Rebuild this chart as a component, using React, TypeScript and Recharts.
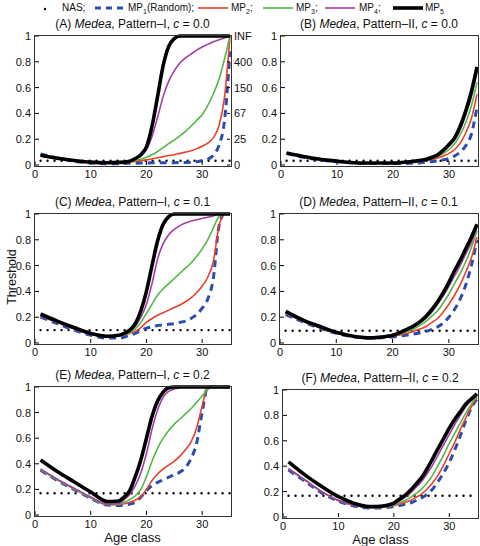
import React from 'react';
import { LineChart, Line, XAxis, YAxis, ReferenceLine } from 'recharts';

const ages = [1, 4, 7, 10, 13, 15, 16, 17, 18, 19, 20, 21, 22, 23, 24, 25, 26, 27, 28, 29, 30, 31, 32, 33, 34, 35];

// (A) Pattern-I, c = 0.0
const aMP1 = [0.085, 0.055, 0.03, 0.015, 0.01, 0.01, 0.012, 0.013, 0.014, 0.015, 0.016, 0.017, 0.017, 0.017, 0.018, 0.018, 0.019, 0.02, 0.022, 0.026, 0.033, 0.045, 0.075, 0.15, 0.34, 0.88];
const aMP2 = [0.072, 0.05, 0.033, 0.021, 0.018, 0.02, 0.022, 0.024, 0.028, 0.034, 0.04, 0.048, 0.056, 0.065, 0.073, 0.08, 0.09, 0.1, 0.11, 0.125, 0.145, 0.17, 0.21, 0.3, 0.52, 1];
const aMP3 = [0.072, 0.05, 0.033, 0.021, 0.018, 0.02, 0.022, 0.025, 0.035, 0.045, 0.06, 0.08, 0.105, 0.135, 0.165, 0.195, 0.225, 0.26, 0.3, 0.345, 0.39, 0.46, 0.55, 0.66, 0.82, 1];
const aMP4 = [0.072, 0.05, 0.033, 0.021, 0.018, 0.02, 0.022, 0.03, 0.045, 0.07, 0.12, 0.22, 0.37, 0.53, 0.65, 0.73, 0.79, 0.83, 0.86, 0.89, 0.915, 0.935, 0.955, 0.97, 0.985, 1];
const aMP5 = [0.075, 0.052, 0.035, 0.022, 0.018, 0.02, 0.022, 0.03, 0.05, 0.08, 0.14, 0.3, 0.53, 0.77, 0.92, 0.98, 1, 1, 1, 1, 1, 1, 1, 1, 1, 1];

// (B) Pattern-II, c = 0.0
const bMP1 = [0.09, 0.06, 0.04, 0.025, 0.015, 0.012, 0.012, 0.012, 0.012, 0.012, 0.012, 0.012, 0.012, 0.013, 0.015, 0.018, 0.022, 0.027, 0.033, 0.04, 0.05, 0.07, 0.1, 0.15, 0.24, 0.45];
const bMP2 = [0.093, 0.066, 0.045, 0.03, 0.018, 0.015, 0.015, 0.015, 0.015, 0.015, 0.016, 0.018, 0.02, 0.023, 0.026, 0.03, 0.036, 0.044, 0.055, 0.07, 0.09, 0.12, 0.17, 0.25, 0.36, 0.55];
const bMP3 = [0.093, 0.066, 0.045, 0.03, 0.018, 0.015, 0.015, 0.015, 0.015, 0.015, 0.016, 0.018, 0.021, 0.024, 0.028, 0.033, 0.04, 0.05, 0.065, 0.088, 0.12, 0.165, 0.235, 0.33, 0.46, 0.64];
const bMP4 = [0.093, 0.066, 0.045, 0.03, 0.018, 0.015, 0.015, 0.015, 0.015, 0.015, 0.016, 0.018, 0.021, 0.025, 0.03, 0.036, 0.043, 0.057, 0.075, 0.105, 0.145, 0.195, 0.275, 0.39, 0.53, 0.72];
const bMP5 = [0.093, 0.066, 0.045, 0.03, 0.018, 0.015, 0.015, 0.015, 0.015, 0.015, 0.016, 0.018, 0.021, 0.025, 0.03, 0.037, 0.045, 0.06, 0.08, 0.115, 0.16, 0.21, 0.3, 0.42, 0.57, 0.76];

// (C) Pattern-I, c = 0.1
const cMP1 = [0.2, 0.15, 0.1, 0.06, 0.038, 0.038, 0.045, 0.06, 0.075, 0.095, 0.115, 0.125, 0.135, 0.14, 0.145, 0.15, 0.16, 0.17, 0.19, 0.22, 0.27, 0.34, 0.5, 0.9, 1, 1];
const cMP2 = [0.21, 0.16, 0.11, 0.068, 0.05, 0.055, 0.062, 0.075, 0.09, 0.12, 0.16, 0.19, 0.215, 0.235, 0.255, 0.275, 0.295, 0.32, 0.35, 0.39, 0.44, 0.51, 0.63, 0.9, 1, 1];
const cMP3 = [0.21, 0.16, 0.11, 0.068, 0.05, 0.055, 0.065, 0.08, 0.11, 0.16, 0.23, 0.3, 0.37, 0.42, 0.46, 0.5, 0.54, 0.58, 0.62, 0.67, 0.73, 0.8, 0.89, 0.98, 1, 1];
const cMP4 = [0.21, 0.16, 0.11, 0.068, 0.05, 0.055, 0.068, 0.09, 0.13, 0.2, 0.3, 0.46, 0.65, 0.77, 0.84, 0.88, 0.91, 0.93, 0.945, 0.955, 0.965, 0.975, 0.985, 1, 1, 1];
const cMP5 = [0.225, 0.17, 0.12, 0.075, 0.052, 0.06, 0.075, 0.1, 0.15, 0.25, 0.4, 0.6, 0.79, 0.92, 0.98, 1, 1, 1, 1, 1, 1, 1, 1, 1, 1, 1];

// (D) Pattern-II, c = 0.1
const dMP1 = [0.22, 0.165, 0.115, 0.075, 0.048, 0.04, 0.038, 0.038, 0.04, 0.043, 0.047, 0.052, 0.058, 0.065, 0.072, 0.08, 0.09, 0.105, 0.125, 0.155, 0.2, 0.26, 0.34, 0.45, 0.6, 0.8];
const dMP2 = [0.23, 0.17, 0.12, 0.077, 0.05, 0.041, 0.039, 0.04, 0.042, 0.046, 0.052, 0.06, 0.07, 0.08, 0.095, 0.11, 0.13, 0.16, 0.19, 0.24, 0.3, 0.37, 0.45, 0.55, 0.66, 0.82];
const dMP3 = [0.23, 0.17, 0.12, 0.077, 0.05, 0.041, 0.039, 0.04, 0.043, 0.048, 0.055, 0.066, 0.08, 0.095, 0.115, 0.14, 0.17, 0.21, 0.25, 0.31, 0.38, 0.46, 0.54, 0.63, 0.74, 0.87];
const dMP4 = [0.23, 0.17, 0.12, 0.077, 0.05, 0.041, 0.039, 0.041, 0.045, 0.05, 0.058, 0.072, 0.09, 0.108, 0.13, 0.16, 0.195, 0.24, 0.3, 0.365, 0.44, 0.52, 0.6, 0.69, 0.78, 0.9];
const dMP5 = [0.245, 0.18, 0.13, 0.083, 0.052, 0.042, 0.04, 0.042, 0.046, 0.052, 0.06, 0.075, 0.095, 0.115, 0.14, 0.17, 0.21, 0.26, 0.32, 0.39, 0.47, 0.56, 0.64, 0.73, 0.82, 0.92];

// (E) Pattern-I, c = 0.2
const eMP1 = [0.35, 0.27, 0.2, 0.13, 0.078, 0.075, 0.078, 0.085, 0.1, 0.14, 0.19, 0.23, 0.255, 0.275, 0.295, 0.315, 0.335, 0.37, 0.44, 0.56, 0.8, 1, 1, 1, 1, 1];
const eMP2 = [0.355, 0.275, 0.205, 0.135, 0.08, 0.082, 0.088, 0.1, 0.115, 0.145, 0.2, 0.27, 0.32, 0.36, 0.39, 0.42, 0.46, 0.51, 0.57, 0.68, 0.85, 1, 1, 1, 1, 1];
const eMP3 = [0.355, 0.275, 0.205, 0.135, 0.082, 0.085, 0.1, 0.12, 0.15, 0.2, 0.3, 0.42, 0.52, 0.6, 0.66, 0.71, 0.75, 0.79, 0.83, 0.88, 0.93, 0.98, 1, 1, 1, 1];
const eMP4 = [0.36, 0.28, 0.21, 0.14, 0.085, 0.09, 0.12, 0.16, 0.23, 0.33, 0.48, 0.67, 0.82, 0.92, 0.965, 0.985, 0.995, 1, 1, 1, 1, 1, 1, 1, 1, 1];
const eMP5 = [0.43, 0.34, 0.26, 0.18, 0.105, 0.11, 0.14, 0.19, 0.3, 0.43, 0.6, 0.77, 0.89, 0.96, 0.995, 1, 1, 1, 1, 1, 1, 1, 1, 1, 1, 1];

// (F) Pattern-II, c = 0.2
const fMP1 = [0.37, 0.28, 0.19, 0.125, 0.085, 0.072, 0.07, 0.07, 0.072, 0.076, 0.082, 0.09, 0.1, 0.11, 0.13, 0.15, 0.18, 0.22, 0.28, 0.35, 0.43, 0.53, 0.64, 0.76, 0.86, 0.93];
const fMP2 = [0.38, 0.29, 0.2, 0.13, 0.09, 0.077, 0.075, 0.075, 0.077, 0.082, 0.09, 0.1, 0.115, 0.13, 0.155, 0.18, 0.22, 0.27, 0.33, 0.41, 0.5, 0.59, 0.69, 0.78, 0.87, 0.94];
const fMP3 = [0.38, 0.29, 0.2, 0.13, 0.09, 0.077, 0.075, 0.076, 0.079, 0.085, 0.095, 0.11, 0.13, 0.155, 0.185, 0.22, 0.27, 0.33, 0.41, 0.49, 0.58, 0.66, 0.74, 0.82, 0.89, 0.95];
const fMP4 = [0.38, 0.29, 0.2, 0.13, 0.09, 0.077, 0.075, 0.076, 0.08, 0.088, 0.1, 0.125, 0.155, 0.19, 0.235, 0.28, 0.34, 0.41, 0.49, 0.57, 0.65, 0.73, 0.8, 0.87, 0.92, 0.96];
const fMP5 = [0.434, 0.33, 0.24, 0.16, 0.105, 0.085, 0.082, 0.083, 0.087, 0.095, 0.11, 0.14, 0.17, 0.21, 0.26, 0.31, 0.38, 0.46, 0.54, 0.62, 0.7, 0.77, 0.83, 0.89, 0.93, 0.97];

const nasLevels = [0.033, 0.033, 0.1, 0.095, 0.17, 0.167];

const xTicks = [0, 10, 20, 30];
const yTicks = [0, 0.2, 0.4, 0.6, 0.8, 1];
const rightTickLabels = ['0', '25', '67', '150', '400', 'INF'];

const FONT = '"Liberation Sans", Arial, Helvetica, sans-serif';
const AXIS = '#000';

const seriesStyle = [
  { key: 'mp1', color: '#2d4cb0', width: 3, dash: '7 5' },
  { key: 'mp2', color: '#e8402a', width: 1.6 },
  { key: 'mp3', color: '#52b847', width: 1.6 },
  { key: 'mp4', color: '#a53ca6', width: 1.6 },
  { key: 'mp5', color: '#000000', width: 3.6 },
];

function fmtY(v: number) {
  return v === 0 ? '0' : v === 1 ? '1' : String(v);
}

interface PanelProps {
  left: number;
  top: number;
  width: number;
  height: number;
  letter: string;
  pattern: string;
  c: string;
  series: number[][];
  nas: number;
  showRight?: boolean;
}

function Panel({ left, top, width, height, letter, pattern, c, series, nas, showRight }: PanelProps) {
  const data = ages.map((age, i) => ({
    age,
    mp1: series[0][i],
    mp2: series[1][i],
    mp3: series[2][i],
    mp4: series[3][i],
    mp5: series[4][i],
  }));
  const leftW = 40;
  const rightW = showRight ? 32 : 1;
  const mTop = 6;
  const bottomH = 24;
  return (
    <>
      <div style={{ position: 'absolute', left: left - leftW, top: top - mTop - 1 }}>
        <LineChart
          width={leftW + width + rightW + 2}
          height={height + mTop + 1 + bottomH}
          data={data}
          margin={{ top: mTop, right: 2, left: 0, bottom: 0 }}
        >
          <XAxis
            dataKey="age"
            type="number"
            domain={[0, 35]}
            ticks={xTicks}
            height={bottomH}
            stroke={AXIS}
            axisLine={false}
            tickSize={-4}
            tickMargin={9}
            tick={{ fontSize: 11, fill: '#111', fontFamily: FONT }}
          />
          <XAxis
            xAxisId="top"
            dataKey="age"
            orientation="top"
            type="number"
            domain={[0, 35]}
            ticks={xTicks}
            height={1}
            stroke={AXIS}
            axisLine={false}
            tickSize={-3}
            tick={false}
          />
          <YAxis
            type="number"
            domain={[0, 1]}
            ticks={yTicks}
            width={leftW}
            stroke={AXIS}
            axisLine={false}
            tickSize={-4}
            tickMargin={8}
            tickFormatter={fmtY}
            tick={{ fontSize: 11, fill: '#111', fontFamily: FONT }}
          />
          <YAxis
            yAxisId="r"
            orientation="right"
            type="number"
            domain={[0, 1]}
            ticks={yTicks}
            width={rightW}
            stroke={AXIS}
            axisLine={false}
            tickSize={-3}
            tickMargin={7}
            tickFormatter={(v: number) => rightTickLabels[yTicks.indexOf(v)] ?? ''}
            tick={showRight ? { fontSize: 11, fill: '#111', fontFamily: FONT } : false}
          />
          <ReferenceLine
            segment={[
              { x: 1, y: nas },
              { x: 35, y: nas },
            ]}
            stroke="#000"
            strokeWidth={2.4}
            strokeDasharray="0 7"
            strokeLinecap="round"
          />
          {/* invisible series so the top and right tick axes get their scales */}
          <Line
            xAxisId="top"
            yAxisId="r"
            dataKey="mp5"
            stroke="none"
            dot={false}
            activeDot={false}
            legendType="none"
            isAnimationActive={false}
          />
          {seriesStyle.map((s) => (
            <Line
              key={s.key}
              dataKey={s.key}
              type="monotone"
              stroke={s.color}
              strokeWidth={s.width}
              strokeDasharray={s.dash}
              dot={false}
              activeDot={false}
              isAnimationActive={false}
            />
          ))}
        </LineChart>
      </div>
      {/* MATLAB-style box around the plot area */}
      <div
        style={{
          position: 'absolute',
          left: left - 1,
          top: top - 1,
          width: width + 1,
          height: height + 1,
          border: '1px solid #333',
          pointerEvents: 'none',
        }}
      />
      <div
        style={{
          position: 'absolute',
          left,
          width,
          top: top - 19,
          textAlign: 'center',
          fontSize: 12,
          lineHeight: '14px',
          fontFamily: FONT,
          whiteSpace: 'nowrap',
        }}
      >
        ({letter}) <i>Medea</i>, Pattern–{pattern}, <i>c</i> = {c}
      </div>
    </>
  );
}

function LegendRow() {
  const item = (x: number, label: React.ReactNode) => (
    <span style={{ position: 'absolute', left: x, top: 0 }}>{label}</span>
  );
  const swatch = (x: number, color: string, w: number, dash?: string) => (
    <svg style={{ position: 'absolute', left: x, top: 2 }} width={30} height={10}>
      <line x1={0} y1={5} x2={30} y2={5} stroke={color} strokeWidth={w} strokeDasharray={dash} />
    </svg>
  );
  return (
    <div style={{ position: 'absolute', left: 0, top: 1, width: 480, height: 14, fontFamily: FONT, fontSize: 10, lineHeight: '14px' }}>
      <svg style={{ position: 'absolute', left: 42, top: 2 }} width={8} height={10}>
        <circle cx={3} cy={6} r={1.2} fill="#000" />
      </svg>
      {item(62, 'NAS;')}
      {swatch(95, seriesStyle[0].color, 3, '6 5')}
      {item(128, <>MP<sub style={{ fontSize: 7 }}>1</sub>(Random);</>)}
      {swatch(198, seriesStyle[1].color, 1.6)}
      {item(231, <>MP<sub style={{ fontSize: 7 }}>2</sub>;</>)}
      {swatch(263, seriesStyle[2].color, 1.6)}
      {item(296, <>MP<sub style={{ fontSize: 7 }}>3</sub>;</>)}
      {swatch(325, seriesStyle[3].color, 1.6)}
      {item(359, <>MP<sub style={{ fontSize: 7 }}>4</sub>;</>)}
      {swatch(393, seriesStyle[4].color, 3.6)}
      {item(425, <>MP<sub style={{ fontSize: 7 }}>5</sub></>)}
    </div>
  );
}

export default function App() {
  return (
    <div
      style={{
        position: 'fixed',
        left: 0,
        top: 0,
        width: 480,
        height: 546,
        background: '#fff',
        fontFamily: FONT,
        color: '#111',
        overflow: 'hidden',
      }}
    >
      <LegendRow />
      <Panel left={35} top={36} width={195} height={129} letter="A" pattern="I" c="0.0"
        series={[aMP1, aMP2, aMP3, aMP4, aMP5]} nas={nasLevels[0]} showRight />
      <Panel left={281} top={36} width={196} height={129} letter="B" pattern="II" c="0.0"
        series={[bMP1, bMP2, bMP3, bMP4, bMP5]} nas={nasLevels[1]} />
      <Panel left={35} top={214} width={195} height={129} letter="C" pattern="I" c="0.1"
        series={[cMP1, cMP2, cMP3, cMP4, cMP5]} nas={nasLevels[2]} />
      <Panel left={280} top={214} width={197} height={129} letter="D" pattern="II" c="0.1"
        series={[dMP1, dMP2, dMP3, dMP4, dMP5]} nas={nasLevels[3]} />
      <Panel left={35} top={387} width={195} height={128} letter="E" pattern="I" c="0.2"
        series={[eMP1, eMP2, eMP3, eMP4, eMP5]} nas={nasLevels[4]} />
      <Panel left={283} top={390} width={194} height={127} letter="F" pattern="II" c="0.2"
        series={[fMP1, fMP2, fMP3, fMP4, fMP5]} nas={nasLevels[5]} />
      <div
        style={{
          position: 'absolute',
          left: 12,
          top: 277,
          transform: 'translate(-50%, -50%) rotate(-90deg)',
          fontSize: 12.5,
          whiteSpace: 'nowrap',
        }}
      >
        Threshold
      </div>
      <div style={{ position: 'absolute', left: 35, width: 195, top: 531, textAlign: 'center', fontSize: 13, lineHeight: '13px' }}>
        Age class
      </div>
      <div style={{ position: 'absolute', left: 283, width: 195, top: 533, textAlign: 'center', fontSize: 13, lineHeight: '13px' }}>
        Age class
      </div>
    </div>
  );
}
